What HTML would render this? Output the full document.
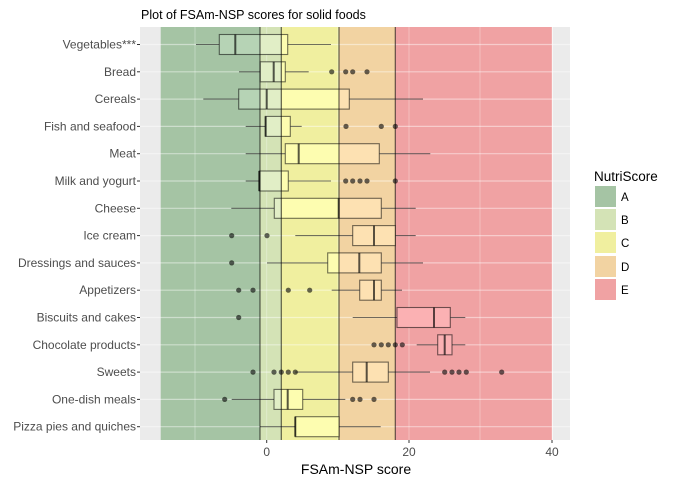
<!DOCTYPE html>
<html><head><meta charset="utf-8"><style>
html,body{margin:0;padding:0;background:#fff;}
svg{display:block;font-family:"Liberation Sans",Arial,sans-serif;}
</style></head><body>
<svg width="679" height="485" viewBox="0 0 679 485" xmlns="http://www.w3.org/2000/svg">
<rect width="679" height="485" fill="#fff"/>
<text x="141" y="19" font-size="12.5" fill="#000">Plot of FSAm-NSP scores for solid foods</text>
<rect x="140" y="27" width="430" height="413" fill="#ebebeb"/>
<g stroke="#fff" stroke-width="0.6">
<line x1="195" y1="27" x2="195" y2="440"/><line x1="338" y1="27" x2="338" y2="440"/><line x1="480" y1="27" x2="480" y2="440"/>
</g>
<g stroke="#fff" stroke-width="1.2">
<line x1="266.7" y1="27" x2="266.7" y2="440"/><line x1="409" y1="27" x2="409" y2="440"/><line x1="552" y1="27" x2="552" y2="440"/>
</g>
<g id="hg" stroke="#fff" stroke-width="1.2"></g>
<rect x="160.7" y="27" width="99.3" height="413" fill="#a5c4a4"/>
<rect x="260" y="27" width="21.3" height="413" fill="#d4e3b6"/>
<rect x="281.3" y="27" width="57.7" height="413" fill="#f0ef9f"/>
<rect x="339" y="27" width="56.3" height="413" fill="#f2d3a2"/>
<rect x="395.3" y="27" width="156.7" height="413" fill="#f0a2a3"/>
<g stroke="#fff" stroke-opacity="0.3" stroke-width="1">
<line x1="195" y1="27" x2="195" y2="440"/><line x1="338" y1="27" x2="338" y2="440"/><line x1="480" y1="27" x2="480" y2="440"/>
<line x1="266.7" y1="27" x2="266.7" y2="440"/><line x1="409" y1="27" x2="409" y2="440"/><line x1="552" y1="27" x2="552" y2="440"/>
</g>
<g stroke="#fff" stroke-width="1.2" id="hlines"></g>
<g stroke="#000" stroke-opacity="0.6" stroke-width="1.2">
<line x1="260" y1="27" x2="260" y2="440"/><line x1="281.3" y1="27" x2="281.3" y2="440"/><line x1="339" y1="27" x2="339" y2="440"/><line x1="395.3" y1="27" x2="395.3" y2="440"/>
</g>
<g id="rows"></g>
<g font-size="12" fill="#4d4d4d" text-anchor="middle">
<text x="266.7" y="456">0</text><text x="409" y="456">20</text><text x="552" y="456">40</text>
</g>
<g stroke="#333" stroke-width="1"><line x1="266.7" y1="440" x2="266.7" y2="443"/><line x1="409" y1="440" x2="409" y2="443"/><line x1="552" y1="440" x2="552" y2="443"/></g>
<text x="356" y="474" font-size="14" text-anchor="middle" fill="#000">FSAm-NSP score</text>
<text x="594" y="181" font-size="13.5" fill="#000">NutriScore</text>
<rect x="595" y="186" width="21" height="21" fill="#a5c4a4"/>
<rect x="595" y="209" width="21" height="21" fill="#d4e3b6"/>
<rect x="595" y="232" width="21" height="21" fill="#f0ef9f"/>
<rect x="595" y="256" width="21" height="21" fill="#f2d3a2"/>
<rect x="595" y="279" width="21" height="21" fill="#f0a2a3"/>
<g font-size="11.5" fill="#000"><text x="621" y="201">A</text><text x="621" y="224">B</text><text x="621" y="247">C</text><text x="621" y="271">D</text><text x="621" y="294">E</text></g>
<g id="ylab" font-size="12" fill="#4d4d4d" text-anchor="end"></g>
<script>
var NS="http://www.w3.org/2000/svg";
function el(p,t,a,txt){var e=document.createElementNS(NS,t);for(var k in a)e.setAttribute(k,a[k]);if(txt)e.textContent=txt;document.getElementById(p).appendChild(e);}
var zones=[[140,260,"#b6d3b5"],[260,281.3,"#e1eec6"],[281.3,339,"#fdfdb0"],[339,395.3,"#fde1b2"],[395.3,570,"#fbb1b3"]];
var rows=[
["Vegetables***",196,219.3,235.3,287.7,331,[]],
["Bread",239,260.3,273.7,285.3,308.7,[331.7,345.7,352.7,367]],
["Cereals",203.3,238.7,266.7,349.3,423,[]],
["Fish and seafood",245.7,265.3,265.7,290.3,301.7,[346,381.3,395.3]],
["Meat",245.7,285.3,298.7,379.3,430.3,[]],
["Milk and yogurt",245.7,259.3,259.3,288.3,331,[345.7,352.7,360,367,395.3]],
["Cheese",231.3,274.3,338.7,381.3,415.7,[]],
["Ice cream",295.3,352.7,374,395.3,415.7,[231.7,267]],
["Dressings and sauces",267,327.7,359.3,381.3,423,[231.7]],
["Appetizers",331.7,359.7,374,381.3,402,[238.7,253,288.3,309.7]],
["Biscuits and cakes",352.7,397,434,450.3,465.3,[238.7]],
["Chocolate products",416.7,437.7,444.7,452,465.3,[374,381.3,388.3,395.3,402.3]],
["Sweets",295.3,352.7,366.7,388.3,430,[253,274,281.3,288.3,295.3,444.7,452,459,466.3,501.7]],
["One-dish meals",231.7,274,287.7,302.7,345.3,[224.7,352.7,360,374]],
["Pizza pies and quiches",260,295.3,295.3,339,380.7,[]]
];
rows.forEach(function(r,i){
 var y=44.5+27.3*i;
 el("hlines","line",{x1:140,x2:570,y1:y,y2:y,"stroke-opacity":0.45});
 el("ylab","text",{x:136,y:y+4},r[0]);
 el("ylab","line",{x1:137,x2:140,y1:y,y2:y,stroke:"#333"});
 var g="rows";
 el(g,"line",{x1:r[1],x2:r[2],y1:y,y2:y,stroke:"#000","stroke-opacity":0.55,"stroke-width":1.1});
 el(g,"line",{x1:r[4],x2:r[5],y1:y,y2:y,stroke:"#000","stroke-opacity":0.55,"stroke-width":1.1});
 zones.forEach(function(z){var a=Math.max(z[0],r[2]),b=Math.min(z[1],r[4]);if(b>a)el(g,"rect",{x:a,y:y-10,width:b-a,height:20,fill:z[2]});});
 el(g,"line",{x1:260,x2:260,y1:y-10,y2:y+10,stroke:"#000","stroke-opacity":(r[2]<260&&r[4]>260)?0.6:0,"stroke-width":1.2});
 el(g,"line",{x1:281.3,x2:281.3,y1:y-10,y2:y+10,stroke:"#000","stroke-opacity":(r[2]<281.3&&r[4]>281.3)?0.6:0,"stroke-width":1.2});
 el(g,"line",{x1:339,x2:339,y1:y-10,y2:y+10,stroke:"#000","stroke-opacity":(r[2]<339&&r[4]>339)?0.6:0,"stroke-width":1.2});
 el(g,"line",{x1:395.3,x2:395.3,y1:y-10,y2:y+10,stroke:"#000","stroke-opacity":(r[2]<395.3&&r[4]>395.3)?0.6:0,"stroke-width":1.2});
 el(g,"rect",{x:r[2],y:y-10,width:r[4]-r[2],height:20,fill:"none",stroke:"#000","stroke-opacity":0.55,"stroke-width":1.1});
 el(g,"line",{x1:r[3],x2:r[3],y1:y-10,y2:y+10,stroke:"#000","stroke-opacity":0.65,"stroke-width":2});
 r[6].forEach(function(x){el(g,"circle",{cx:x,cy:y,r:2.6,fill:"#000","fill-opacity":0.6});});
});
</script>
</svg>
</body></html>
